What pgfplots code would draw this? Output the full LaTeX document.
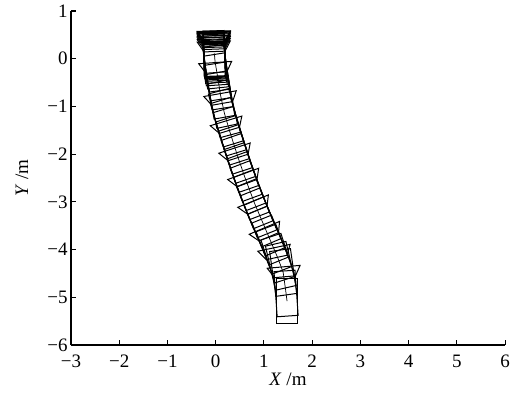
\documentclass[border=0pt]{standalone}
\usepackage{pgfplots}
\usepackage{pgfplotstable}
\pgfplotsset{compat=1.18}
\usepackage{fontspec}
\setmainfont{Liberation Serif}
\pgfdeclareplotmark{veh}{%
  \pgfpathrectangle{\pgfpoint{-10.5bp}{-22.6bp}}{\pgfpoint{21bp}{45.2bp}}%
  \pgfusepathqstroke}
\pgfdeclareplotmark{tri}{%
  \pgfpathmoveto{\pgfpoint{-17bp}{0bp}}%
  \pgfpathlineto{\pgfpoint{16bp}{0bp}}%
  \pgfpathlineto{\pgfpoint{10.5bp}{-10bp}}%
  \pgfpathlineto{\pgfpoint{-10.5bp}{-10bp}}%
  \pgfpathclose
  \pgfusepathqstroke}
\pgfplotstableread{
x y a
-0.03 0.11 2
-0.03 0.10 2
-0.03 0.09 2
-0.03 0.08 2
-0.025 0.06 2
-0.02 0.04 3
-0.02 0.01 3
-0.015 -0.03 3
-0.01 -0.08 4
0.00 -0.14 6
0.01 -0.20 8
0.04 -0.38 9
0.07 -0.57 9
0.10 -0.76 10
0.14 -0.95 12
0.18 -1.14 15
0.235 -1.33 17
0.29 -1.52 17
0.35 -1.71 18
0.41 -1.90 18
0.47 -2.09 19
0.535 -2.28 19
0.60 -2.47 20
0.67 -2.66 21
0.74 -2.85 21
0.81 -3.04 22
0.89 -3.23 22
0.97 -3.42 23
1.05 -3.61 23
1.13 -3.80 22
1.21 -3.99 21
1.29 -4.18 18
1.35 -4.34 13
1.40 -4.48 8
1.46 -4.92 4
1.48 -5.08 0
}\poses
\pgfplotstableread{
x y a
-0.03 0.58 1
-0.03 0.57 1
-0.03 0.56 1
-0.03 0.55 1
-0.03 0.53 1
-0.03 0.51 2
-0.03 0.48 2
-0.03 0.45 2
-0.03 0.41 2
-0.03 0.36 2
0.00 -0.08 4
0.10 -0.73 10
0.225 -1.30 17
0.40 -1.87 18
0.58 -2.41 20
0.785 -2.98 22
1.02 -3.54 23
1.22 -3.96 12
1.42 -4.36 5
}\tris
\begin{document}
\begin{tikzpicture}[font=\fontsize{19bp}{22bp}\selectfont]
\begin{axis}[
  x=48.2bp, y=47.7bp,
  xmin=-3, xmax=6, ymin=-6, ymax=1,
  axis lines*=left,
  axis line style={line width=1.1bp},
  tick align=inside,
  major tick length=5bp,
  tick style={line width=1bp, black},
  xtick={-3,...,6},
  xticklabels={−3,−2,−1,0,1,2,3,4,5,6},
  ytick={-6,...,1},
  yticklabels={−6,−5,−4,−3,−2,−1,0,1},
  tick label style={font=\fontsize{19bp}{22bp}\selectfont},
  label style={font=\fontsize{19bp}{22bp}\selectfont},
  xticklabel style={inner xsep=0bp, yshift=-6bp},
  yticklabel style={inner ysep=0bp},
  every axis x label/.style={at={(axis description cs:0.5,-0.1198)}, anchor=base},
  every axis y label/.style={at={(axis description cs:-0.0991,0.5)}, rotate=90, anchor=base},
  xlabel={\textit{X} /m},
  ylabel={\textit{Y} /m},
  clip=false,
]
\addplot[black, line width=0.7bp] table[x=x,y=y] {\poses};
\addplot[scatter, only marks, mark=veh, point meta=y,
  mark options={line width=1bp, solid},
  scatter/use mapped color={draw=black, fill=none},
  visualization depends on={\thisrow{a}\as\ang},
  scatter/@pre marker code/.append style={/tikz/rotate=\ang}]
  table[x=x,y=y] {\poses};
\addplot[scatter, only marks, mark=tri, point meta=y,
  mark options={line width=1bp, solid},
  scatter/use mapped color={draw=black, fill=none},
  visualization depends on={\thisrow{a}\as\ang},
  scatter/@pre marker code/.append style={/tikz/rotate=\ang}]
  table[x=x,y=y] {\tris};
\coordinate (SW) at (rel axis cs:0,0);
\coordinate (NE) at (rel axis cs:1,1);
\end{axis}
\path ([shift={(-71bp,-51bp)}]SW) ([shift={(8bp,11bp)}]NE);
\end{tikzpicture}
\end{document}
